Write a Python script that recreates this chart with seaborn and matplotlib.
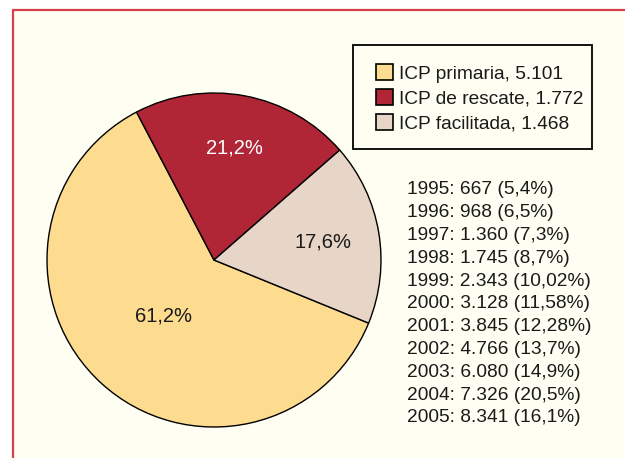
import matplotlib
matplotlib.use("Agg")
import matplotlib.pyplot as plt
import seaborn as sns
import numpy as np
from matplotlib.patches import Rectangle, Patch
from matplotlib.lines import Line2D

# ---- data ----
categories = ["ICP primaria", "ICP de rescate", "ICP facilitada"]
counts = [5101, 1772, 1468]
count_labels = ["5.101", "1.772", "1.468"]
pct_labels = ["61,2%", "21,2%", "17,6%"]
years = ["1995", "1996", "1997", "1998", "1999", "2000", "2001", "2002", "2003", "2004", "2005"]
year_counts = ["667", "968", "1.360", "1.745", "2.343", "3.128", "3.845", "4.766", "6.080", "7.326", "8.341"]
year_pcts = ["5,4%", "6,5%", "7,3%", "8,7%", "10,02%", "11,58%", "12,28%", "13,7%", "14,9%", "20,5%", "16,1%"]

colors = ["#FDDC8F", "#B02636", "#E7D5C7"]
text_colors = ["#1a1a1a", "#ffffff", "#1a1a1a"]
label_dist = [0.45, 0.68, 0.66]

sns.set_theme(style="white")
FONT = ["Liberation Sans", "DejaVu Sans"]
plt.rcParams["font.family"] = FONT

W, H = 625, 458
fig = plt.figure(figsize=(W / 100, H / 100), dpi=100)
fig.patch.set_facecolor("white")

def fx(px):
    return px / W

def fy(py):
    return 1 - py / H

# framed cream background
bg = Rectangle((fx(13), 0), 1 - fx(13), fy(9.5), transform=fig.transFigure,
               facecolor="#FFFEF2", edgecolor="none", zorder=-5)
fig.add_artist(bg)
fig.add_artist(Line2D([fx(13), fx(13)], [0, fy(9.5)], transform=fig.transFigure,
                      color="#D8404E", lw=1.6, zorder=-4))
fig.add_artist(Line2D([fx(13), 1], [fy(9.5), fy(9.5)], transform=fig.transFigure,
                      color="#D8404E", lw=1.6, zorder=-4))

# pie axes: center (214,260), radius 167 px
cx, cy, r = 214, 260, 167
ax = fig.add_axes([fx(cx - r), fy(cy + r), 2 * r / W, 2 * r / H])
ax.set_zorder(5)
ax.patch.set_visible(False)
wedges, _ = ax.pie(counts, colors=colors, startangle=-22.2, counterclock=False,
                   wedgeprops=dict(edgecolor="black", linewidth=1.0))
for w in wedges:
    w.set_clip_on(False)
ax.set_xlim(-1, 1)
ax.set_ylim(-1, 1)
ax.axis("off")

for w, lab, tc, d in zip(wedges, pct_labels, text_colors, label_dist):
    ang = np.deg2rad((w.theta1 + w.theta2) / 2)
    ax.text(d * np.cos(ang), d * np.sin(ang), lab, ha="center", va="center",
            fontsize=14.5, color=tc, family=FONT)

# legend box
fig.add_artist(Rectangle((fx(353), fy(149)), fx(592) - fx(353), fy(45) - fy(149),
                         transform=fig.transFigure, facecolor="none",
                         edgecolor="black", lw=1.3, zorder=2))
handles = [Patch(facecolor=c, edgecolor="black", lw=1.2) for c in colors]
labels = [f"{c}, {n}" for c, n in zip(categories, count_labels)]
leg = fig.legend(handles, labels, loc="upper left",
                 bbox_to_anchor=(fx(376), fy(64)), frameon=False,
                 prop=dict(family=FONT, size=13.8), handlelength=0.9, handleheight=0.9,
                 handletextpad=0.3, labelspacing=0.33, borderpad=0, borderaxespad=0)
for t in leg.get_texts():
    t.set_color("#1a1a1a")

# year list
for i, (yv, c, p) in enumerate(zip(years, year_counts, year_pcts)):
    fig.text(fx(407), fy(190 + i * 22.8), f"{yv}: {c} ({p})", ha="left", va="center",
             fontsize=13.8, color="#1a1a1a", family=FONT)

fig.savefig("out.png", dpi=100, facecolor=fig.get_facecolor())
